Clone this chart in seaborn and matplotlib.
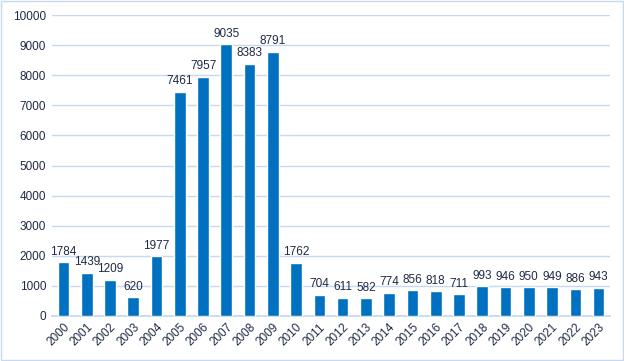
import matplotlib.pyplot as plt
import pandas as pd
import seaborn as sns

years = [str(y) for y in range(2000, 2024)]
values = [1784, 1439, 1209, 620, 1977, 7461, 7957, 9035, 8383, 8791,
          1762, 704, 611, 582, 774, 856, 818, 711, 993, 946, 950, 949, 886, 943]

df = pd.DataFrame({"Year": years, "Value": values})

sns.set_theme(style="white")
plt.rcParams['font.family'] = ['Liberation Sans', 'DejaVu Sans']
text_color = '#1f2a44'
grid_color = '#c6d9f0'

fig = plt.figure(figsize=(6.24, 3.61), dpi=100)
ax = fig.add_axes([0.083, 0.125, 0.895, 0.833])

sns.barplot(data=df, x="Year", y="Value", color='#0070c0', saturation=1, width=0.5, ax=ax, zorder=3)

## labels on top of bars
for p, v in zip(ax.patches, values):
    ax.text(p.get_x() + p.get_width() / 2, v + 150, str(v), ha='center', va='bottom',
            fontsize=8.5, color=text_color, zorder=4)

## axes style
ax.set_ylim(0, 10000)
ax.set_yticks(range(0, 10001, 1000))
ax.set_xlim(-0.5, len(years) - 0.5)
ax.yaxis.grid(True, color=grid_color, linewidth=1, zorder=0)
for s in ['top', 'right', 'left']:
    ax.spines[s].set_visible(False)
ax.spines['bottom'].set_color(grid_color)
ax.set_xlabel('')
ax.set_ylabel('')
ax.tick_params(axis='both', length=0, labelsize=8.5, colors=text_color, pad=4)
plt.setp(ax.get_xticklabels(), rotation=45, ha='right', rotation_mode='anchor')

## border round the figure
fig.patches.append(plt.Rectangle((0.002, 0.003), 0.996, 0.994, transform=fig.transFigure,
                                 fill=False, edgecolor=grid_color, linewidth=1))

fig.savefig('out.png', dpi=100)
